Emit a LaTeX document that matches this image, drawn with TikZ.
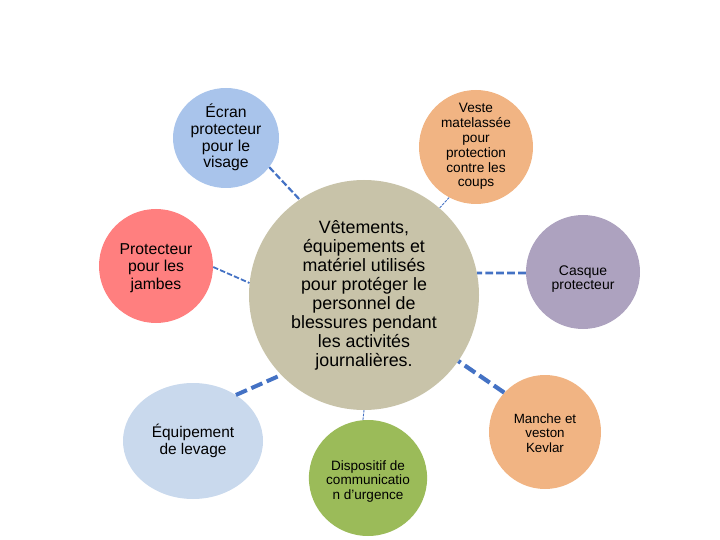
\documentclass[tikz,border=0pt]{standalone}
\usepackage{fontspec}
\setmainfont{Liberation Sans}
\usetikzlibrary{shapes.geometric}
\definecolor{cCenter}{HTML}{C8C3A9}
\definecolor{cEcran}{HTML}{A9C4EB}
\definecolor{cVeste}{HTML}{F1B483}
\definecolor{cJambes}{HTML}{FF7F7F}
\definecolor{cCasque}{HTML}{ADA2BF}
\definecolor{cLevage}{HTML}{C9D9ED}
\definecolor{cDisp}{HTML}{9BBB59}
\definecolor{cLine}{HTML}{4472C4}
\tikzset{
  bubble/.style={ellipse, inner sep=0pt, align=center, text=black, text depth=0pt},
  link/.style={draw=cLine, line width=#1, dash pattern=on 3*#1 off 1.2*#1},
}
\begin{document}
\begin{tikzpicture}[x=1bp,y=-1bp]
\useasboundingbox (0,0) rectangle (720,540);
\node[bubble, fill=cCenter, minimum width=230bp, minimum height=230bp, text height=143bp,
      font=\fontsize{17.9}{19}\selectfont] (c) at (364,295)
  {Vêtements,\\équipements et\\matériel utilisés\\pour protéger le\\personnel de\\blessures pendant\\les activités\\journalières.};
\node[bubble, fill=cEcran, minimum width=106bp, minimum height=100bp, text height=60bp,
      font=\fontsize{15.8}{17}\selectfont] (ecran) at (226,138)
  {Écran\\protecteur\\pour le\\visage};
\node[bubble, fill=cVeste, minimum width=114bp, minimum height=114bp, text height=80bp,
      font=\fontsize{13.7}{15}\selectfont] (veste) at (476,147)
  {Veste\\matelassée\\pour\\protection\\contre les\\coups};
\node[bubble, fill=cJambes, minimum width=114bp, minimum height=114bp, text height=46bp,
      font=\fontsize{15.8}{17.3}\selectfont] (jambes) at (156,266)
  {Protecteur\\pour les\\jambes};
\node[bubble, fill=cCasque, minimum width=114bp, minimum height=114bp, text height=34bp,
      font=\fontsize{14}{13.5}\selectfont] (casque) at (583,272)
  {Casque\\protecteur};
\node[bubble, fill=cVeste, minimum width=112bp, minimum height=114bp, text height=40bp,
      font=\fontsize{13.4}{14.5}\selectfont] (manche) at (545,432)
  {Manche et\\veston\\Kevlar};
\node[bubble, fill=cLevage, minimum width=140bp, minimum height=116bp, text height=27bp,
      font=\fontsize{15.5}{16.7}\selectfont] (levage) at (193,441)
  {Équipement\\de levage};
\node[bubble, fill=cDisp, minimum width=118bp, minimum height=116bp, text height=42bp,
      font=\fontsize{13.6}{14.5}\selectfont] (disp) at (368,478)
  {Dispositif de\\communicatio\\n d’urgence};
\draw[link=2.2bp] (ecran.-34) -- (c.124.5);
\draw[link=0.9bp] (veste.242.5) -- (c.49.5);
\draw[link=1.8bp] (jambes.-1) -- (c.174);
\draw[link=2.6bp] (casque.181) -- (c.11);
\draw[link=4.2bp] (manche.136.6) -- (c.-35.3);
\draw[link=4bp] (levage.47.7) -- (c.224.6);
\draw[link=0.9bp] (disp.95) -- (c.270.5);
\end{tikzpicture}
\end{document}
